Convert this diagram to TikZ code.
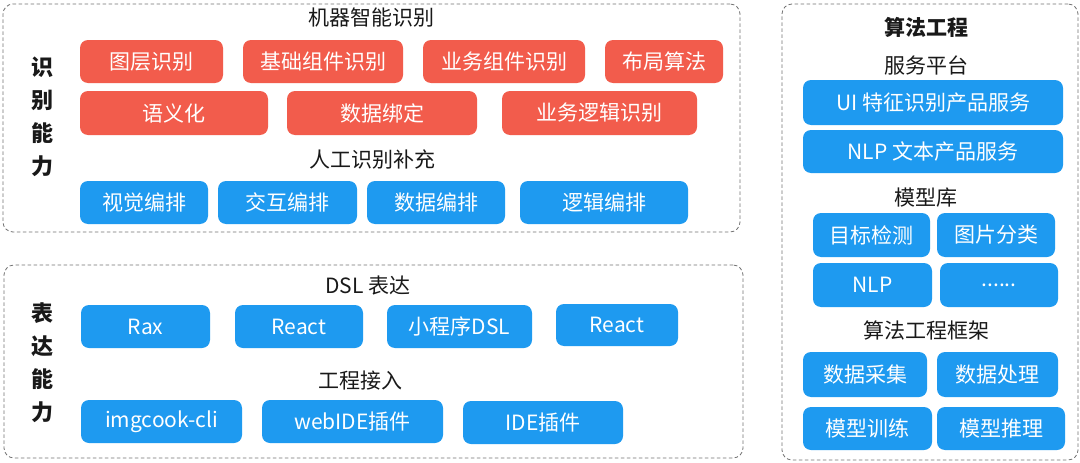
\documentclass[tikz,border=0pt]{standalone}
\usepackage{fontspec}
\setmainfont{Noto Sans CJK SC}
\begin{document}
\begin{tikzpicture}[x=1pt,y=-1pt,
  panel/.style={draw=black!55, dash pattern=on 3.5pt off 2.5pt, line width=0.8pt, rounded corners=10pt, inner sep=0pt},
  redbox/.style={fill={rgb,255:red,242;green,92;blue,76}, rounded corners=8pt, inner sep=0pt, text=white, font=\fontsize{21}{24}\selectfont},
  bluebox/.style={fill={rgb,255:red,30;green,154;blue,240}, rounded corners=8pt, inner sep=0pt, text=white, font=\fontsize{21}{24}\selectfont},
  title/.style={font=\fontsize{21}{24}\selectfont, text=black!90, inner sep=0pt},
  side/.style={font=\fontsize{22}{24}\selectfont\bfseries, text=black!90, inner sep=0pt}]
\newcommand\mybox[7]{%
  \pgfmathsetmacro\bcx{(#3+#5)/2}\pgfmathsetmacro\bcy{(#4+#6)/2}%
  \pgfmathsetmacro\bw{#5-#3}\pgfmathsetmacro\bh{#6-#4}%
  \node[#1, minimum width=\bw pt, minimum height=\bh pt] (#2) at (\bcx,\bcy) {#7};}
\useasboundingbox[fill=white] (0,0) rectangle (1080,463);
% panels
\mybox{panel}{p1}{3}{4}{740}{232}{}
\mybox{panel}{p2}{4}{265}{743}{458}{}
\mybox{panel}{p3}{782}{4}{1078}{460}{}
% side labels
\node[side] (s1) at (42,67) {识};
\node[side] (s2) at (42,100) {别};
\node[side] (s3) at (42,133) {能};
\node[side] (s4) at (42,166) {力};
\node[side] (t1) at (42,313) {表};
\node[side] (t2) at (42,346) {达};
\node[side] (t3) at (42,379) {能};
\node[side] (t4) at (42,412) {力};
% panel 1
\node[title] (h1) at (371,18) {机器智能识别};
\mybox{redbox}{r1}{80}{40}{223}{83}{图层识别}
\mybox{redbox}{r2}{243}{40}{403}{83}{基础组件识别}
\mybox{redbox}{r3}{423}{40}{585}{83}{业务组件识别}
\mybox{redbox}{r4}{605}{40}{723}{83}{布局算法}
\mybox{redbox}{r5}{80}{91}{268}{135}{语义化}
\mybox{redbox}{r6}{287}{91}{477}{135}{数据绑定}
\mybox{redbox}{r7}{502}{91}{697}{135}{业务逻辑识别}
\node[title] (h2) at (372,160) {人工识别补充};
\mybox{bluebox}{b1}{80}{181}{208}{224}{视觉编排}
\mybox{bluebox}{b2}{218}{181}{357}{224}{交互编排}
\mybox{bluebox}{b3}{367}{181}{505}{224}{数据编排}
\mybox{bluebox}{b4}{520}{181}{688}{224}{逻辑编排}
% panel 2
\node[title] (h3) at (368,286) {DSL 表达};
\mybox{bluebox}{d1}{81}{305}{210}{348}{Rax}
\mybox{bluebox}{d2}{235}{305}{363}{348}{React}
\mybox{bluebox}{d3}{387}{305}{532}{348}{小程序DSL}
\mybox{bluebox}{d4}{556}{304}{678}{346}{React}
\node[title] (h4) at (360,381) {工程接入};
\mybox{bluebox}{e1}{81}{400}{242}{443}{imgcook-cli}
\mybox{bluebox}{e2}{262}{400}{443}{443}{webIDE插件}
\mybox{bluebox}{e3}{463}{401}{623}{444}{IDE插件}
% panel 3
\node[title, font=\fontsize{21}{24}\selectfont\bfseries] (h5) at (926,27) {算法工程};
\node[title] (h6) at (926,65) {服务平台};
\mybox{bluebox}{f1}{803}{80}{1063}{125}{UI 特征识别产品服务}
\mybox{bluebox}{f2}{803}{130}{1063}{173}{NLP 文本产品服务}
\node[title] (h7) at (926,198) {模型库};
\mybox{bluebox}{g1}{813}{213}{930}{257}{目标检测}
\mybox{bluebox}{g2}{937}{213}{1055}{257}{图片分类}
\mybox{bluebox}{g3}{813}{263}{932}{307}{NLP}
\mybox{bluebox}{g4}{940}{263}{1058}{307}{......}
\node[title] (h8) at (926,330) {算法工程框架};
\mybox{bluebox}{k1}{803}{352}{927}{397}{数据采集}
\mybox{bluebox}{k2}{937}{352}{1058}{397}{数据处理}
\mybox{bluebox}{k3}{803}{407}{932}{450}{模型训练}
\mybox{bluebox}{k4}{937}{407}{1065}{450}{模型推理}
\end{tikzpicture}
\end{document}
